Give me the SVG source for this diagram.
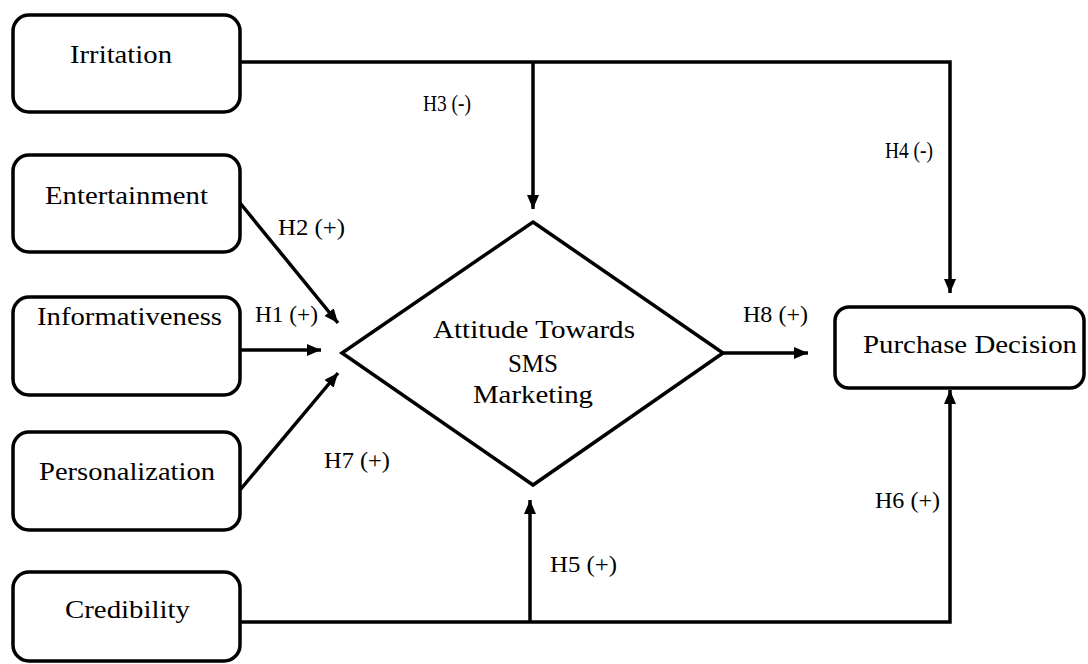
<svg xmlns="http://www.w3.org/2000/svg" width="1088" height="664" viewBox="0 0 1088 664">
<defs>
<style>
.box{fill:#fff;stroke:#000;stroke-width:3.5}
text{font-family:'Liberation Serif','Times New Roman',serif;fill:#000}
.lbl{font-size:25px}
.h{font-size:24px}
.c{fill:none;stroke:#000;stroke-width:3.5}
</style>
<marker id="ah" viewBox="0 0 14 12" refX="14" refY="6" markerWidth="14" markerHeight="12" markerUnits="userSpaceOnUse" orient="auto">
<path d="M0,0 L14,6 L0,12 z" fill="#000"/>
</marker>
</defs>
<rect width="1088" height="664" fill="#fff"/>
<g id="connectors">
<polyline class="c" points="240,62 950,62 950,293" marker-end="url(#ah)"/>
<line class="c" x1="533" y1="62" x2="533" y2="209" marker-end="url(#ah)"/>
<line class="c" x1="240" y1="203" x2="338" y2="323" marker-end="url(#ah)"/>
<line class="c" x1="240" y1="350" x2="321" y2="350" marker-end="url(#ah)"/>
<line class="c" x1="240" y1="490" x2="338" y2="373" marker-end="url(#ah)"/>
<polyline class="c" points="240,622 950,622 950,390" marker-end="url(#ah)"/>
<line class="c" x1="530" y1="622" x2="530" y2="500" marker-end="url(#ah)"/>
<line class="c" x1="723" y1="353" x2="808" y2="353" marker-end="url(#ah)"/>
</g>
<g id="labels">
<text class="h" x="423" y="111" textLength="48" lengthAdjust="spacingAndGlyphs">H3 (-)</text>
<text class="h" x="885" y="158" textLength="48" lengthAdjust="spacingAndGlyphs">H4 (-)</text>
<text class="h" x="278" y="235" textLength="67" lengthAdjust="spacingAndGlyphs">H2 (+)</text>
<text class="h" x="255" y="322" textLength="63" lengthAdjust="spacingAndGlyphs">H1 (+)</text>
<text class="h" x="324" y="468" textLength="66" lengthAdjust="spacingAndGlyphs">H7 (+)</text>
<text class="h" x="743" y="322" textLength="65" lengthAdjust="spacingAndGlyphs">H8 (+)</text>
<text class="h" x="875" y="508" textLength="65" lengthAdjust="spacingAndGlyphs">H6 (+)</text>
<text class="h" x="550" y="572" textLength="67" lengthAdjust="spacingAndGlyphs">H5 (+)</text>
</g>
<g id="irritation">
<rect class="box" x="13" y="15" width="227" height="97" rx="16"/>
<text class="lbl" x="70" y="63" textLength="102" lengthAdjust="spacingAndGlyphs">Irritation</text>
</g>
<g id="entertainment">
<rect class="box" x="13" y="155" width="227" height="97" rx="16"/>
<text class="lbl" x="45" y="204" textLength="163" lengthAdjust="spacingAndGlyphs">Entertainment</text>
</g>
<g id="informativeness">
<rect class="box" x="13" y="297" width="227" height="98" rx="16"/>
<text class="lbl" x="37" y="325" textLength="185" lengthAdjust="spacingAndGlyphs">Informativeness</text>
</g>
<g id="personalization">
<rect class="box" x="13" y="432" width="227" height="98" rx="16"/>
<text class="lbl" x="39" y="480" textLength="176" lengthAdjust="spacingAndGlyphs">Personalization</text>
</g>
<g id="credibility">
<rect class="box" x="13" y="572" width="227" height="89" rx="16"/>
<text class="lbl" x="65" y="618" textLength="125" lengthAdjust="spacingAndGlyphs">Credibility</text>
</g>
<g id="attitude">
<polygon class="box" points="533,222 723,353 533,485 342,353"/>
<text class="lbl" x="433" y="338" textLength="202" lengthAdjust="spacingAndGlyphs">Attitude Towards</text>
<text class="lbl" x="533" y="372" text-anchor="middle">SMS</text>
<text class="lbl" x="473" y="403" textLength="120" lengthAdjust="spacingAndGlyphs">Marketing</text>
</g>
<g id="purchase">
<rect class="box" x="835" y="307" width="249" height="81" rx="14"/>
<text class="lbl" x="863" y="353" textLength="214" lengthAdjust="spacingAndGlyphs">Purchase Decision</text>
</g>
</svg>
